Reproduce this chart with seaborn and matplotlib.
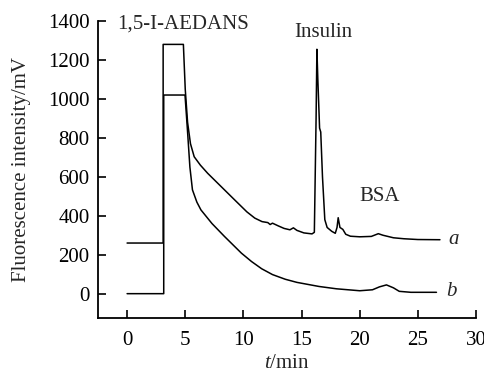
import matplotlib
matplotlib.use("Agg")
import matplotlib.pyplot as plt
import seaborn as sns
import pandas as pd

# trace a (upper) -- time in min, signal in mV
t_a = [0, 3.1, 3.1, 4.84, 5.0, 5.2, 5.45, 5.77, 6.3, 6.93, 8.0, 9.24, 10.3,
       10.98, 11.6, 12.1, 12.3, 12.5, 13.0, 13.5, 14.0, 14.3, 14.6, 15.2,
       15.9, 16.1, 16.25, 16.32, 16.4, 16.55, 16.65, 16.8, 17.0, 17.2, 17.6,
       17.9, 18.05, 18.15, 18.3, 18.55, 18.8, 19.2, 20.0, 21.0, 21.6, 22.0,
       22.9, 23.8, 25.0, 26.9]
v_a = [260, 260, 1280, 1280, 1050, 880, 770, 703, 660, 618, 555, 482, 420,
       388, 370, 365, 355, 362, 348, 335, 328, 338, 325, 312,
       307, 315, 900, 1255, 1100, 850, 830, 600, 380, 340, 320,
       310, 340, 390, 340, 330, 305, 295, 292, 294, 308, 300,
       287, 282, 278, 277]

# trace b (lower)
t_b = [0, 3.15, 3.15, 4.98, 5.19, 5.4, 5.62, 6.0, 6.35, 7.3, 8.37, 9.83,
       10.7, 11.57, 12.5, 13.6, 14.6, 16.5, 18.0, 20.0, 21.1, 21.7, 22.3,
       22.9, 23.4, 24.4, 26.6]
v_b = [0, 0, 1020, 1020, 840, 650, 533, 470, 430, 360, 294, 208,
       165, 128, 98, 74, 58, 37, 25, 15, 20, 35, 45,
       30, 12, 7, 7]

x_ticks = [0, 5, 10, 15, 20, 25, 30]
y_ticks = [0, 200, 400, 600, 800, 1000, 1200, 1400]

sns.set_style("ticks")
plt.rcParams["font.family"] = ["Liberation Serif", "DejaVu Serif"]
plt.rcParams["mathtext.fontset"] = "custom"
plt.rcParams["mathtext.it"] = "Liberation Serif:italic"
plt.rcParams["mathtext.rm"] = "Liberation Serif"

df_a = pd.DataFrame({"t": t_a, "v": v_a})
df_b = pd.DataFrame({"t": t_b, "v": v_b})

fig, ax = plt.subplots(figsize=(4.84, 3.74), dpi=100)
fig.subplots_adjust(left=0.2025, right=0.9835, bottom=0.1497, top=0.9438)

sns.lineplot(data=df_a, x="t", y="v", estimator=None, sort=False,
             color="black", linewidth=1.1, ax=ax)
sns.lineplot(data=df_b, x="t", y="v", estimator=None, sort=False,
             color="black", linewidth=1.1, ax=ax)

ax.set_xlim(-2.5, 30)
ax.set_ylim(-125, 1400)
ax.set_xticks(x_ticks)
ax.set_yticks(y_ticks)
ax.tick_params(direction="in", length=6, width=1.2, labelsize=15,
               colors="black")
ax.tick_params(axis="x", pad=9)
ax.tick_params(axis="y", pad=6)
sns.despine(ax=ax)
for side in ["left", "bottom"]:
    ax.spines[side].set_linewidth(1.3)
    ax.spines[side].set_color("black")

ax.set_xlabel("$t$/min", fontsize=15, labelpad=3)
ax.set_ylabel("Fluorescence intensity/mV", fontsize=15, labelpad=12)

ax.text(4.8, 1385, "1,5-I-AEDANS", fontsize=15, ha="center", va="center")
ax.text(16.9, 1340, "Insulin", fontsize=15, ha="center", va="center")
ax.text(21.7, 497, "BSA", fontsize=15, ha="center", va="center")
ax.text(27.6, 277, "a", fontsize=15, style="italic", ha="left", va="center")
ax.text(27.4, 10, "b", fontsize=15, style="italic", ha="left", va="center")

fig.savefig("out.png", dpi=100)
